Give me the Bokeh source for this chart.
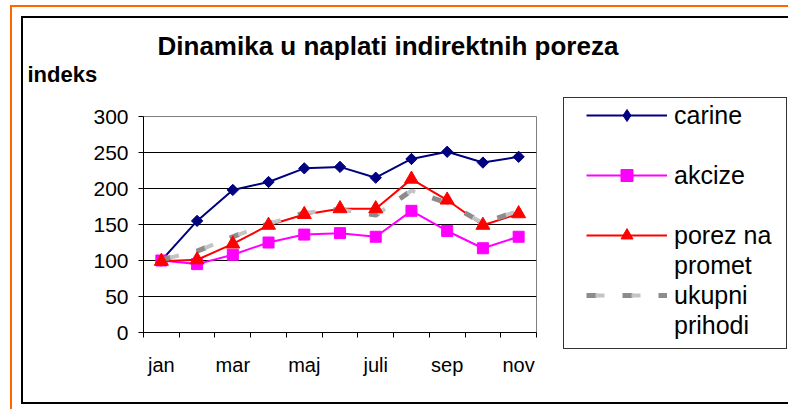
from bokeh.plotting import figure
from bokeh.models import (Range1d, FixedTicker, Legend, LegendItem, Title)
from bokeh.embed import file_html
from bokeh.resources import INLINE

# ---- data ----
months = ["jan", "feb", "mar", "apr", "maj", "jun", "juli", "avg", "sep", "okt", "nov"]
shown_labels = ["jan", "", "mar", "", "maj", "", "juli", "", "sep", "", "nov"]
carine = [100, 155, 198, 209, 228, 230, 215, 241, 251, 236, 244]
akcize = [100, 95, 108, 125, 136, 138, 133, 169, 141, 117, 133]
porez_na_promet = [99, 101, 123, 149, 164, 172, 172, 213, 184, 149, 165]
ukupni_prihodi = [101, 113, 133, 151, 166, 171, 163, 197, 180, 152, 169]
y_ticks = [0, 50, 100, 150, 200, 250, 300]

FONT = "Liberation Sans"

x = [i + 0.5 for i in range(len(months))]

# decorative frames (orange page frame, black chart frame, legend box) drawn as CSS lines
def hline(color, x0, y0, w, t):
    return (f"linear-gradient({color},{color})", f"{x0}px {y0}px", f"{w} {t}px")

def vline(color, x0, y0, h, t):
    return (f"linear-gradient({color},{color})", f"{x0}px {y0}px", f"{t}px {h}")

lines = [
    hline("#FF6600", 10, 5, "100%", 2), vline("#FF6600", 10, 5, "100%", 2),
    hline("#000000", 21, 16, "100%", 2), vline("#000000", 21, 16, "388px", 2),
    hline("#000000", 21, 402, "100%", 2),
    hline("#333333", 563, 97, "224px", 1), hline("#333333", 563, 348, "224px", 1),
    vline("#333333", 563, 97, "252px", 1), vline("#333333", 786, 97, "252px", 1),
]
css = {
    "background-color": "white",
    "background-image": ", ".join(l[0] for l in lines),
    "background-position": ", ".join(l[1] for l in lines),
    "background-size": ", ".join(l[2] for l in lines),
    "background-repeat": "no-repeat",
}

p = figure(frame_width=393, frame_height=216, output_backend="svg", toolbar_location=None,
           x_range=Range1d(0, len(months)), y_range=Range1d(0, 300),
           min_border_left=143, min_border_right=0, min_border_top=116, min_border_bottom=77)
p.styles = css
p.background_fill_color = "white"
p.border_fill_alpha = 0
p.outline_line_color = "#808080"
p.outline_line_width = 1

# grid
p.xgrid.visible = False
p.ygrid.ticker = FixedTicker(ticks=y_ticks)
p.ygrid.grid_line_color = "black"
p.ygrid.grid_line_width = 1

# y axis
p.yaxis.ticker = FixedTicker(ticks=y_ticks)
p.yaxis.axis_line_color = "black"
p.yaxis.major_tick_out = 5
p.yaxis.major_tick_in = 0
p.yaxis.minor_tick_line_color = None
p.yaxis.major_label_standoff = 10
p.yaxis.major_label_text_font = FONT
p.yaxis.major_label_text_font_size = "21px"
p.yaxis.major_label_text_color = "black"

# x axis: labels at centers, ticks at boundaries (minor)
p.xaxis.ticker = FixedTicker(ticks=x, minor_ticks=list(range(len(months) + 1)))
p.xaxis.major_label_overrides = {xi: lab for xi, lab in zip(x, shown_labels)}
p.xaxis.major_tick_line_color = None
p.xaxis.major_tick_out = 0
p.xaxis.major_tick_in = 0
p.xaxis.minor_tick_line_color = "black"
p.xaxis.minor_tick_out = 5
p.xaxis.minor_tick_in = 0
p.xaxis.axis_line_color = "black"
p.xaxis.major_label_standoff = 16
p.xaxis.major_label_text_font = FONT
p.xaxis.major_label_text_font_size = "20px"
p.xaxis.major_label_text_color = "black"

# series
l1 = p.line(x, carine, line_color="#000080", line_width=2)
m1 = p.scatter(x, carine, marker="square", angle=0.7854, size=8, fill_color="#000080", line_color="#000080")
m1_key = p.scatter(x, carine, marker="diamond", size=14, fill_color="#000080", line_color="#000080", visible=False)
l2 = p.line(x, akcize, line_color="#FF00FF", line_width=2)
m2 = p.scatter(x, akcize, marker="square", size=11, fill_color="#FF00FF", line_color="#FF00FF")
l3 = p.line(x, porez_na_promet, line_color="#FF0000", line_width=2)
l4 = p.line(x, ukupni_prihodi, line_color="#8c8c8c", line_width=5, line_dash="10 26")
l4b = p.line(x, ukupni_prihodi, line_color="#c4c4c4", line_width=4, line_dash="9 27", line_dash_offset=-9)
m3 = p.scatter(x, porez_na_promet, marker="triangle", size=14, fill_color="#FF0000", line_color="#FF0000")
blank = p.line([], [], line_alpha=0)

legend = Legend(items=[
    LegendItem(label="carine", renderers=[l1, m1_key]),
    LegendItem(label=" ", renderers=[blank]),
    LegendItem(label="akcize", renderers=[l2, m2]),
    LegendItem(label=" ", renderers=[blank]),
    LegendItem(label="porez na", renderers=[l3, m3]),
    LegendItem(label="promet", renderers=[blank]),
    LegendItem(label="ukupni", renderers=[l4, l4b]),
    LegendItem(label="prihodi", renderers=[blank]),
], location=(50, -8))
legend.label_text_font = FONT
legend.label_text_font_size = "25px"
legend.label_text_color = "black"
legend.label_height = 30
legend.glyph_height = 30
legend.glyph_width = 81
legend.label_standoff = 7
legend.spacing = 0
legend.padding = 0
legend.margin = 0
legend.border_line_alpha = 0
legend.background_fill_alpha = 0
legend.inactive_fill_alpha = 0
p.add_layout(legend, "right")

# titles: main title (outer), "indeks" nearest the frame
p.title.text = "Dinamika u naplati indirektnih poreza"
p.title.align = "left"
p.title.offset = 14
p.title.standoff = -60
p.title.text_font = FONT
p.title.text_font_size = "26px"
p.title.text_font_style = "bold"
p.title.text_color = "black"
p.add_layout(Title(text="indeks", align="left", offset=-116, standoff=59,
                   text_font=FONT, text_font_size="22px", text_font_style="bold", text_color="black"), "above")

open("out.html", "w").write(file_html(p, INLINE))
